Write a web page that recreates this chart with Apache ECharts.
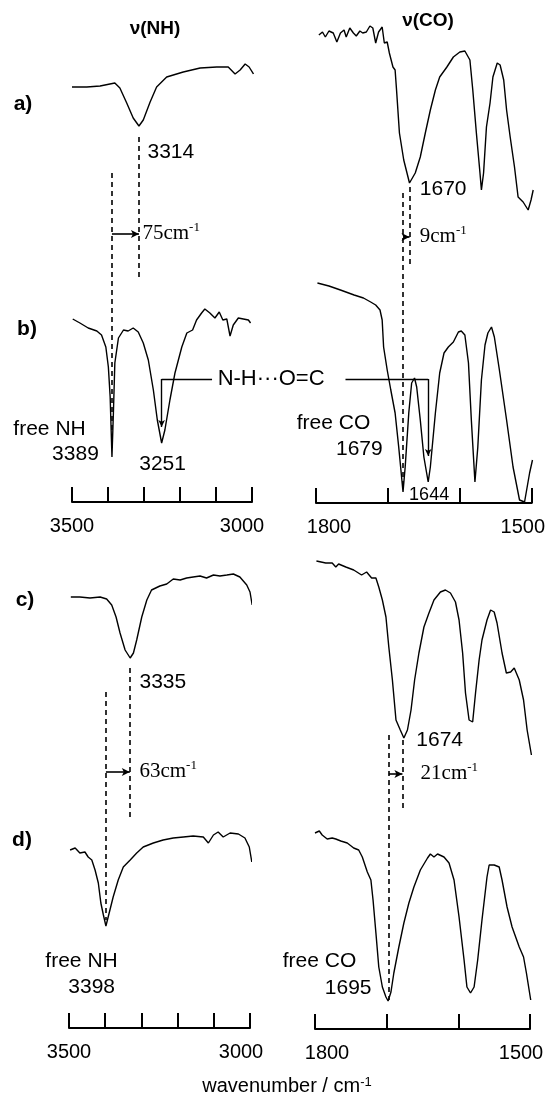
<!DOCTYPE html>
<html><head><meta charset="utf-8">
<script src="https://cdn.jsdelivr.net/npm/echarts/dist/echarts.min.js"></script>
<style>html,body{margin:0;padding:0;background:#fff}#c{width:548px;height:1099px}</style>
</head><body><div id="c"></div>
<script>
// ---- spectra: [wavenumber (cm-1), offset transmittance (a.u.)] ----
const nhA = [[3500,415],[3459,415],[3422,416],[3381,419],[3367,414],[3348,399],[3330,384],[3314,376],[3302,382],[3283,400],[3265,415],[3237,425],[3191,430],[3144,434],[3098,435],[3066,435],[3047,428],[3033,432],[3019,438],[3008,435],[2996,428]];
const nhB = [[3498,183],[3478,179],[3455,174],[3431,171],[3418,167],[3406,155],[3399,135],[3394,105],[3389,45],[3385,89],[3381,139],[3371,164],[3357,172],[3344,171],[3330,174],[3316,170],[3302,159],[3288,142],[3274,112],[3263,82],[3251,59],[3242,72],[3228,102],[3214,129],[3195,155],[3181,169],[3165,172],[3154,182],[3140,189],[3131,193],[3117,189],[3103,184],[3091,190],[3081,182],[3070,183],[3061,166],[3052,177],[3038,184],[3024,183],[3010,182],[3004,179]];
const coA = [[1796,468],[1791,471],[1787,466],[1782,472],[1776,470],[1771,461],[1766,470],[1761,473],[1758,466],[1753,475],[1748,470],[1744,467],[1739,472],[1735,470],[1730,471],[1725,477],[1721,475],[1717,460],[1713,471],[1708,476],[1705,460],[1701,461],[1698,450],[1693,436],[1690,433],[1688,413],[1684,370],[1678,343],[1670,320],[1662,330],[1655,346],[1648,370],[1641,393],[1634,413],[1628,426],[1618,436],[1609,446],[1600,451],[1593,452],[1586,443],[1582,413],[1577,370],[1572,330],[1570,313],[1567,330],[1563,376],[1558,400],[1554,426],[1548,440],[1544,438],[1539,423],[1535,393],[1530,366],[1524,336],[1519,306],[1512,301],[1505,293],[1501,303],[1498,313]];
const coB = [[1798,220],[1782,217],[1766,213],[1747,208],[1734,205],[1724,201],[1717,198],[1711,193],[1708,183],[1706,156],[1701,133],[1696,113],[1690,90],[1685,56],[1679,11],[1676,36],[1671,90],[1667,120],[1663,125],[1660,116],[1655,83],[1650,46],[1644,21],[1641,36],[1634,90],[1628,130],[1622,150],[1616,156],[1609,161],[1602,171],[1598,172],[1593,168],[1588,140],[1584,83],[1579,21],[1575,56],[1570,123],[1565,158],[1561,170],[1556,176],[1552,166],[1545,133],[1535,83],[1526,36],[1517,3],[1510,1],[1503,30],[1499,43]];
const nhC = [[3495,431],[3470,431],[3442,430],[3414,431],[3396,429],[3382,423],[3370,411],[3359,395],[3345,378],[3331,370],[3322,375],[3313,388],[3299,411],[3285,428],[3272,438],[3249,442],[3230,444],[3212,449],[3193,448],[3175,450],[3157,451],[3138,452],[3120,450],[3101,453],[3083,452],[3064,453],[3046,454],[3028,451],[3009,443],[3000,436],[2994,423]];
const nhD = [[3497,178],[3483,180],[3470,175],[3456,176],[3447,171],[3437,168],[3428,158],[3419,145],[3412,125],[3405,113],[3398,102],[3389,115],[3378,131],[3364,148],[3350,161],[3331,168],[3313,175],[3295,181],[3267,185],[3240,188],[3212,190],[3184,191],[3157,192],[3129,191],[3115,185],[3101,193],[3088,196],[3074,191],[3055,195],[3032,194],[3014,190],[3002,181],[2995,166]];
const coC = [[1798,468],[1785,466],[1776,466],[1771,462],[1767,465],[1757,462],[1746,459],[1735,454],[1728,457],[1721,451],[1715,451],[1711,442],[1706,429],[1701,412],[1697,382],[1692,349],[1687,309],[1681,299],[1676,291],[1671,299],[1666,319],[1661,349],[1655,376],[1648,402],[1641,416],[1634,429],[1625,437],[1618,439],[1611,436],[1604,427],[1599,409],[1594,376],[1590,336],[1585,309],[1580,307],[1576,336],[1571,369],[1567,389],[1560,409],[1555,419],[1550,417],[1546,406],[1539,376],[1533,356],[1527,357],[1522,361],[1515,349],[1509,329],[1504,299],[1498,274]];
const coD = [[1800,196],[1794,198],[1790,194],[1783,190],[1776,191],[1771,190],[1764,188],[1755,186],[1746,181],[1739,179],[1734,172],[1727,157],[1722,149],[1719,129],[1715,96],[1711,62],[1706,42],[1701,32],[1698,28],[1694,37],[1690,56],[1683,82],[1676,106],[1669,126],[1662,142],[1653,159],[1643,171],[1639,175],[1634,172],[1629,175],[1620,172],[1613,166],[1606,149],[1599,112],[1592,69],[1588,42],[1583,36],[1578,42],[1573,69],[1567,109],[1560,152],[1557,164],[1550,164],[1543,162],[1539,149],[1532,122],[1525,102],[1515,82],[1509,72],[1505,56],[1499,29]];

// ---- axis ticks / labels ----
const nhRange = [3000, 3500];
const coRange = [1500, 1800];
const tickStep = 100;

// ---- annotations: guides [wn, from, to], shifts [fromWn, toWn, level] ----
const guidesTL = [[3314,365,225],[3389,329,52]];
const shiftTL = [3389,3314,268];
const guidesTR = [[1670,316,236],[1679,310,13]];
const shiftTR = [1679,1670,266];
const guidesBL = [[3332,360,210],[3398,336,108]];
const shiftBL = [3398,3332,256];
const guidesBR = [[1678,289,219],[1697,294,29]];
const shiftBR = [1697,1678,255];
// hydrogen-bond connector: [startWn, peakWn, level, arrowEnd]
const hbNH = [3111,3251,123,75];
const hbCO = [1759,1644,124,47];

// ---- text labels: [text, wn, level, align, size] ----
const labelsTL = [['3314',3289,349,'left'],['{t|75cm}{s|-1}',3303,268,'left'],['free NH',3561,72,'center'],['3389',3489,47,'center'],['3251',3247,37,'center'],['N-H···O=C',3094,123,'left',22]];
const labelsTR = [['1670',1655,313,'left'],['{t|9cm}{s|-1}',1655,266,'left'],['free CO',1775,79,'center'],['1679',1739,53,'center'],['1644',1642,7,'center',18]];
const labelsBL = [['3335',3304,345,'left'],['{t|63cm}{s|-1}',3304,256,'left'],['free NH',3464,66,'center'],['3398',3436,40,'center']];
const labelsBR = [['1674',1658,288,'left'],['{t|21cm}{s|-1}',1652,255,'left'],['free CO',1793,67,'center'],['1695',1753,40,'center']];

const INK = '#000';
const SANS = 'Liberation Sans';
const SERIF = 'Liberation Serif';

const grids = [
  {left:72, width:180, top:20, height:482},
  {left:316, width:217, top:20, height:483},
  {left:69, width:181, top:546, height:482},
  {left:315, width:215, top:546, height:483}
];

function xAxisFor(gi, range, lo, hi, padLo, padHi) {
  return {
    type:'value', gridIndex:gi, min:range[0], max:range[1], interval:tickStep, inverse:true,
    splitLine:{show:false},
    axisLine:{show:true, onZero:false, lineStyle:{color:INK, width:2}},
    axisTick:{show:true, inside:true, length:15, lineStyle:{color:INK, width:2}},
    axisLabel:{
      show:true, interval:0, margin:14, color:INK, fontFamily:SANS, fontSize:20,
      formatter: v => v === hi ? '{h|' + v + '}' : (v === lo ? '{l|' + v + '}' : ''),
      rich:{
        h:{fontFamily:SANS, fontSize:20, color:INK, padding:padHi},
        l:{fontFamily:SANS, fontSize:20, color:INK, padding:padLo}
      }
    }
  };
}

function yAxisFor(gi, h) {
  return {type:'value', gridIndex:gi, min:0, max:h, show:false, splitLine:{show:false}};
}

function markLines(guides, shift, hb) {
  const data = [];
  guides.forEach(g => data.push([
    {coord:[g[0], g[1]], lineStyle:{type:[5,4], width:1.6, color:INK}, symbol:'none'},
    {coord:[g[0], g[2]], symbol:'none'}
  ]));
  data.push([
    {coord:[shift[0], shift[2]], lineStyle:{type:'solid', width:1.6, color:INK}, symbol:'none'},
    {coord:[shift[1], shift[2]], symbol:'arrow', symbolSize:[6,8]}
  ]);
  if (hb) {
    data.push([
      {coord:[hb[0], hb[2]], lineStyle:{type:'solid', width:1.4, color:INK}, symbol:'none'},
      {coord:[hb[1], hb[2]], symbol:'none'}
    ]);
    data.push([
      {coord:[hb[1], hb[2]], lineStyle:{type:'solid', width:1.4, color:INK}, symbol:'none'},
      {coord:[hb[1], hb[3]], symbol:'arrow', symbolSize:[5,7]}
    ]);
  }
  return {silent:true, animation:false, symbol:['none','none'], label:{show:false}, emphasis:{disabled:true}, data};
}

function spectrum(gi, data, ml) {
  const s = {type:'line', xAxisIndex:gi, yAxisIndex:gi, data, symbol:'none', showSymbol:false,
    lineStyle:{color:INK, width:1.4}, clip:false, animation:false, silent:true};
  if (ml) s.markLine = ml;
  return s;
}

function textSeries(gi, labels) {
  return {
    type:'scatter', xAxisIndex:gi, yAxisIndex:gi, clip:false, silent:true, animation:false,
    symbolSize:1, itemStyle:{color:'rgba(0,0,0,0)'},
    data: labels.map(l => ({name:l[0], value:[l[1], l[2]], label:{align:l[3], fontSize:l[4] || 21}})),
    label:{
      show:true, position:[0,0], formatter:'{b}', color:INK, opacity:1, textBorderWidth:0, textBorderColor:'transparent',
      fontFamily:SANS, fontSize:21, verticalAlign:'middle',
      rich:{
        t:{fontFamily:SERIF, fontSize:21, color:INK, lineHeight:24, textBorderWidth:0},
        s:{fontFamily:SERIF, fontSize:13, color:INK, lineHeight:13, verticalAlign:'top', textBorderWidth:0}
      }
    }
  };
}

const option = {
  backgroundColor:'#fff',
  animation:false,
  grid: grids.map(g => Object.assign({containLabel:false}, g)),
  xAxis: [
    xAxisFor(0, nhRange, 3000, 3500, [0,20,0,0], [0,0,0,0]),
    xAxisFor(1, coRange, 1500, 1800, [0,18,0,0], [0,0,0,26]),
    xAxisFor(2, nhRange, 3000, 3500, [0,18,0,0], [0,0,0,0]),
    xAxisFor(3, coRange, 1500, 1800, [0,18,0,0], [0,0,0,24])
  ],
  yAxis: grids.map((g, i) => yAxisFor(i, g.height)),
  series: [
    spectrum(0, nhA, markLines(guidesTL, shiftTL, hbNH)),
    spectrum(0, nhB),
    spectrum(1, coA, markLines(guidesTR, shiftTR, hbCO)),
    spectrum(1, coB),
    spectrum(2, nhC, markLines(guidesBL, shiftBL, null)),
    spectrum(2, nhD),
    spectrum(3, coC, markLines(guidesBR, shiftBR, null)),
    spectrum(3, coD),
    textSeries(0, labelsTL),
    textSeries(1, labelsTR),
    textSeries(2, labelsBL),
    textSeries(3, labelsBR)
  ],
  graphic: [
    {type:'text', x:155, y:29, style:{text:'ν(NH)', fontFamily:SANS, fontWeight:'bold', fontSize:19, fill:INK, align:'center', verticalAlign:'middle'}},
    {type:'text', x:428, y:21, style:{text:'ν(CO)', fontFamily:SANS, fontWeight:'bold', fontSize:19, fill:INK, align:'center', verticalAlign:'middle'}},
    {type:'text', x:23, y:104, style:{text:'a)', fontFamily:SANS, fontWeight:'bold', fontSize:21, fill:INK, align:'center', verticalAlign:'middle'}},
    {type:'text', x:27, y:329, style:{text:'b)', fontFamily:SANS, fontWeight:'bold', fontSize:21, fill:INK, align:'center', verticalAlign:'middle'}},
    {type:'text', x:25, y:600, style:{text:'c)', fontFamily:SANS, fontWeight:'bold', fontSize:21, fill:INK, align:'center', verticalAlign:'middle'}},
    {type:'text', x:22, y:840, style:{text:'d)', fontFamily:SANS, fontWeight:'bold', fontSize:21, fill:INK, align:'center', verticalAlign:'middle'}},
    {type:'text', x:287, y:1086, style:{text:'wavenumber / cm{s|-1}', fontFamily:SANS, fontSize:20, fill:INK, align:'center', verticalAlign:'middle',
      rich:{s:{fontFamily:SANS, fontSize:13, fill:INK, verticalAlign:'top', lineHeight:12}}}}
  ]
};

const chart = echarts.init(document.getElementById('c'), null, {renderer:'canvas'});
chart.setOption(option);
</script></body></html>
